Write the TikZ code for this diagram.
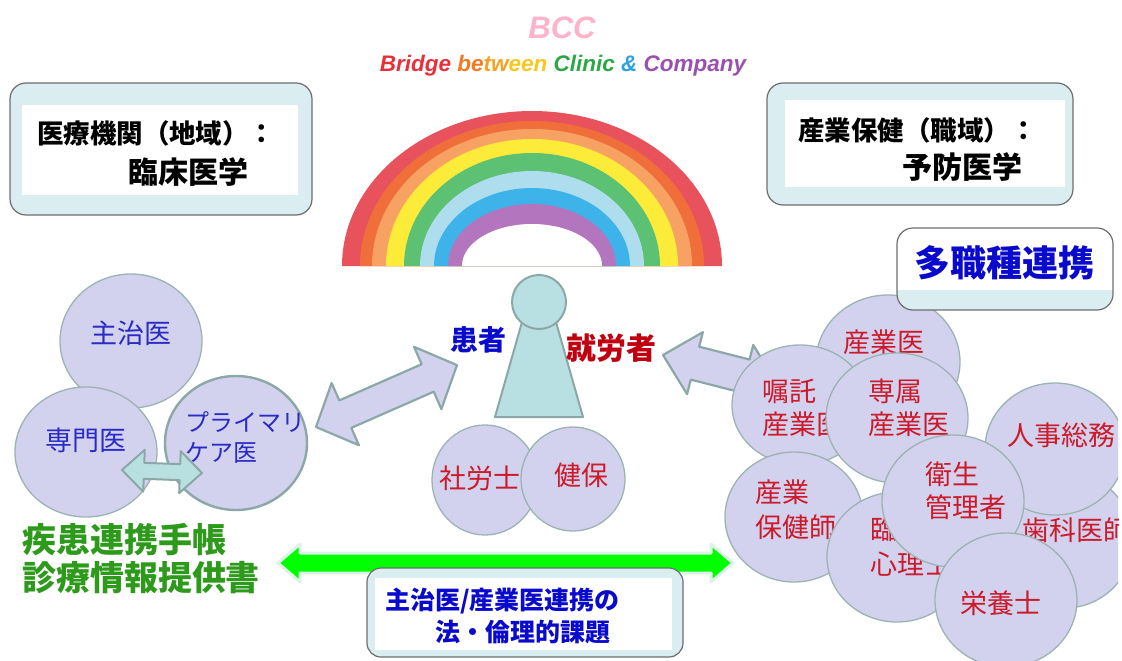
\documentclass[tikz,border=0pt]{standalone}
\usepackage{fontspec}
\usetikzlibrary{shapes.geometric}
\newfontfamily\jp{Noto Sans CJK JP}
\newfontfamily\pop{Liberation Sans}

\definecolor{lav}{HTML}{D2D2EE}
\definecolor{cedge}{HTML}{9DB2B2}
\definecolor{aedge}{HTML}{8CA8A6}
\definecolor{boxfill}{HTML}{DAEDF0}
\definecolor{boxedge}{HTML}{6E6E6E}
\definecolor{arrteal}{HTML}{B9E0E1}
\definecolor{persfill}{HTML}{B8DFE2}
\definecolor{lblue}{HTML}{2A2AC4}
\definecolor{dblue}{HTML}{0A0ACC}
\definecolor{lred}{HTML}{CC1A2A}
\definecolor{dred}{HTML}{C00010}
\definecolor{tgreen}{HTML}{2E9A1C}
\definecolor{agreen}{HTML}{00FF00}
\definecolor{aglow}{HTML}{DDF3E8}
\definecolor{bccpink}{HTML}{FFB3CB}
\definecolor{tRed}{HTML}{E8303A}
\definecolor{tOrange}{HTML}{F27A22}
\definecolor{tAmber}{HTML}{F8A020}
\definecolor{tYellow}{HTML}{F8C820}
\definecolor{tGreen}{HTML}{2BA845}
\definecolor{tBlue}{HTML}{2CA0E0}
\definecolor{tPurple}{HTML}{9A50B0}
\definecolor{rb1}{HTML}{E8525C}
\definecolor{rb2}{HTML}{EF6E3A}
\definecolor{rb3}{HTML}{F7A262}
\definecolor{rb4}{HTML}{FDEB3A}
\definecolor{rb5}{HTML}{5CC173}
\definecolor{rb6}{HTML}{AEDDEE}
\definecolor{rb7}{HTML}{3DB3E9}
\definecolor{rb8}{HTML}{B376BE}

\tikzset{
  every node/.style={inner sep=0pt, outer sep=0pt},
  circ/.style={ellipse, draw=cedge, fill=lav, line width=1.3pt},
  panel/.style={draw=boxedge, fill=boxfill, line width=1.2pt, rounded corners=16pt},
  head/.style={font=\jp\bfseries\fontsize{26.5}{30}\selectfont, anchor=west},
  headbig/.style={font=\jp\bfseries\fontsize{30}{34}\selectfont, anchor=west},
  bluelbl/.style={text=lblue, font=\jp\fontsize{27}{33}\selectfont, align=left},
  redlbl/.style={text=lred, font=\jp\fontsize{27}{33}\selectfont, align=left},
  greenlbl/.style={text=tgreen, font=\jp\bfseries\fontsize{34}{38}\selectfont, anchor=west},
  blockarrow/.style={draw=aedge, fill=lav, line width=2.2pt, line join=round},
  pics/dblarrow/.style n args={4}{code={%
    \pgfmathsetmacro\arrback{#1-#4}%
    \path[pic actions] (0,0) -- (#4,#3) -- (#4,#2) -- (\arrback,#2) -- (\arrback,#3)
      -- (#1,0) -- (\arrback,-#3) -- (\arrback,-#2) -- (#4,-#2) -- (#4,-#3) -- cycle;
  }},
}

\begin{document}
\begin{tikzpicture}[x=1pt,y=-1pt]
\useasboundingbox (0,0) rectangle (1122,661);

% title
\node[font=\pop\bfseries\itshape\fontsize{31}{31}\selectfont, text=bccpink] (bcc) at (562,28) {BCC};
\node[font=\pop\bfseries\itshape\fontsize{22.5}{24}\selectfont] (motto) at (563,66)
  {\textcolor{tRed}{Bridge} \textcolor{tOrange}{be}\textcolor{tAmber}{tw}\textcolor{tYellow}{een}
   \textcolor{tGreen}{Clinic} \textcolor{tBlue}{\&} \textcolor{tPurple}{Company}};

% clinic panel
\draw[panel] (10,83) rectangle (312,215);
\fill[white] (22,105) rectangle (298,195);
\node[head] (clin1) at (37,133) {医療機関（地域）：};
\node[headbig] (clin2) at (128,172) {臨床医学};

% workplace panel
\draw[panel] (767,83) rectangle (1073,205);
\fill[white] (785,100) rectangle (1065,187);
\node[head] (occ1) at (798,130) {産業保健（職域）：};
\node[headbig] (occ2) at (902,167) {予防医学};

% rainbow
\foreach \rx/\ry/\col in {190/155/rb1, 172/145/rb2, 160/137/rb3, 146/127/rb4,
                          128/113/rb5, 112/95/rb6, 98/78/rb7, 84/62/rb8, 70/42/white}
  \fill[\col] ({532-\rx},266) arc[start angle=180, end angle=0, x radius=\rx pt, y radius=\ry pt] -- cycle;

% arrow between worker and occupational team
\coordinate (arrR) at (663,355);
\pic[blockarrow, rotate=-14.3] at (arrR) {dblarrow={118}{17}{32}{33}};

% occupational health team
\begin{scope}
\clip (0,0) rectangle (1118,661);
\node[circ, minimum width=144pt, minimum height=134pt] (c-sangyo) at (888,362) {};
\node[redlbl] (t-sangyo) at (884,342) {産業医};
\node[circ, minimum width=136pt, minimum height=120pt] (c-shoku) at (800,405) {};
\node[redlbl, anchor=west] (t-shoku) at (762,408) {嘱託\\産業医};
\node[circ, minimum width=142pt, minimum height=130pt] (c-senzoku) at (897,418) {};
\node[redlbl, anchor=west] (t-senzoku) at (868,408) {専属\\産業医};
\node[circ, minimum width=136pt, minimum height=136pt] (c-shika) at (1065,540) {};
\node[redlbl, anchor=west] (t-shika) at (1022,530) {歯科医師};
\node[circ, minimum width=140pt, minimum height=132pt] (c-jinji) at (1055,449) {};
\node[redlbl, anchor=west] (t-jinji) at (1007,435) {人事総務};
\node[circ, minimum width=138pt, minimum height=130pt] (c-hoken) at (794,517) {};
\node[redlbl, anchor=west, font=\jp\fontsize{27}{35}\selectfont] (t-hoken) at (755,510) {産業\\保健師};
\node[circ, minimum width=140pt, minimum height=130pt] (c-rinsho) at (897,557) {};
\node[redlbl, anchor=west, font=\jp\fontsize{27}{35}\selectfont] (t-rinsho) at (870,547) {臨床\\心理士};
\node[circ, minimum width=142pt, minimum height=132pt] (c-eisei) at (953,501) {};
\node[redlbl, anchor=west] (t-eisei) at (925,491) {衛生\\管理者};
\node[circ, minimum width=142pt, minimum height=134pt] (c-eiyo) at (1006,600) {};
\node[redlbl] (t-eiyo) at (1001,603) {栄養士};
\end{scope}

% multi-profession panel
\begin{scope}
\clip[rounded corners=16pt] (897,228) rectangle (1113,310);
\fill[white] (897,228) rectangle (1113,310);
\fill[boxfill] (897,290) rectangle (1113,310);
\end{scope}
\draw[draw=boxedge, line width=1.2pt, rounded corners=16pt] (897,228) rectangle (1113,310);
\node[text=dblue, font=\jp\bfseries\fontsize{36}{40}\selectfont] (multi) at (1004,263) {多職種連携};

% clinical side
\node[circ, minimum width=142pt, minimum height=134pt] (c-shuji) at (131,341) {};
\node[bluelbl] (t-shuji) at (131,333) {主治医};
\node[circ, minimum width=142pt, minimum height=130pt] (c-senmon) at (86,452) {};
\node[bluelbl] (t-senmon) at (86,440) {専門医};
\node[circ, draw=aedge, line width=2.4pt, minimum width=142pt, minimum height=134pt] (c-primary) at (236,443) {};
\node[bluelbl, anchor=west, font=\jp\fontsize{24}{30}\selectfont] (t-primary) at (185,437) {プライマリ\\ケア医};

\coordinate (arrS) at (122,470);
\pic[blockarrow, fill=arrteal, line width=2pt, rotate=-2.1] at (arrS) {dblarrow={80}{8}{21}{22}};

\coordinate (arrL) at (316,427);
\pic[blockarrow, rotate=23.7] at (arrL) {dblarrow={154}{15}{34}{32}};

% person
\filldraw[draw=aedge, fill=persfill, line width=2pt, line join=round]
  (495,417) -- (583,417) -- (556,322) -- (522,322) -- cycle;
\node[circle, draw=aedge, fill=persfill, line width=2pt, minimum size=54pt] (headc) at (539,302) {};
\node[text=dblue, font=\jp\bfseries\fontsize{28}{30}\selectfont, anchor=west] (patient) at (450,340) {患者};
\node[text=dred, font=\jp\bfseries\fontsize{30}{32}\selectfont, anchor=west] (worker) at (566,348) {就労者};

\node[circ, minimum width=106pt, minimum height=110pt] (c-sharo) at (485,480) {};
\node[redlbl] (t-sharo) at (480,478) {社労士};
\node[circ, minimum width=104pt, minimum height=104pt] (c-kenpo) at (573,479) {};
\node[redlbl] (t-kenpo) at (581,475) {健保};

% documents
\node[greenlbl] (g1) at (22,540) {疾患連携手帳};
\node[greenlbl] (g2) at (22,578) {診療情報提供書};

\coordinate (arrG) at (278,563);
\pic[draw=aglow, fill=agreen, line width=3pt, line join=round] at (arrG) {dblarrow={455}{10}{19}{22}};

% legal issues panel
\draw[panel, rounded corners=14pt] (367,568) rectangle (683,657);
\fill[white] (375,578) rectangle (672,650);
\node[text=dblue, font=\jp\bfseries\fontsize{25}{28}\selectfont, anchor=west] (law1) at (385,601) {主治医/産業医連携の};
\node[text=dblue, font=\jp\bfseries\fontsize{25}{28}\selectfont, anchor=west] (law2) at (435,632) {法・倫理的課題};
\end{tikzpicture}
\end{document}
